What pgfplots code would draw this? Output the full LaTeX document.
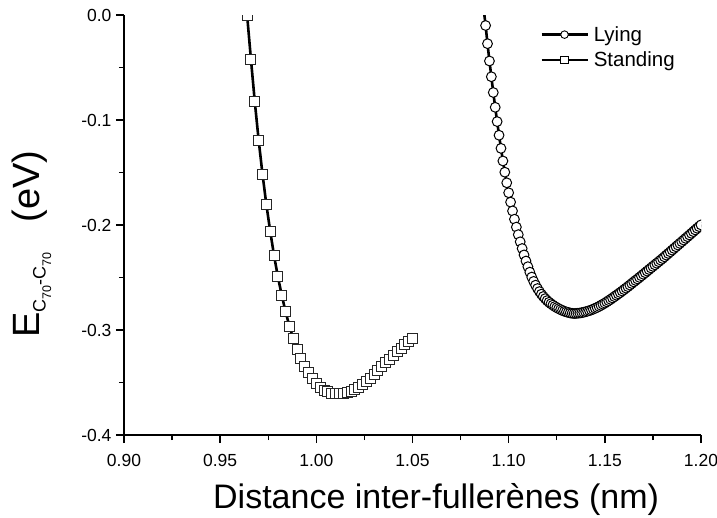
\documentclass[border=0pt]{standalone}
\usepackage{fontspec}
\setmainfont{Liberation Sans}
\usepackage{pgfplots}
\pgfplotsset{compat=1.18}

\pgfplotstableread{
x y
1.087 0.006
1.088 -0.0100
1.089 -0.0273
1.090 -0.0438
1.091 -0.0588
1.092 -0.0738
1.093 -0.0879
1.094 -0.1015
1.095 -0.1145
1.096 -0.1270
1.097 -0.1390
1.098 -0.1497
1.099 -0.1598
1.100 -0.1693
1.101 -0.1782
1.102 -0.1866
1.103 -0.1945
1.104 -0.2020
1.105 -0.2092
1.106 -0.2160
1.107 -0.2224
1.108 -0.2285
1.109 -0.2343
1.110 -0.2397
1.111 -0.2449
1.112 -0.2496
1.113 -0.2537
1.114 -0.2573
1.115 -0.2605
1.116 -0.2634
1.117 -0.2659
1.118 -0.2681
1.119 -0.2701
1.120 -0.2720
1.121 -0.2736
1.122 -0.2750
1.123 -0.2763
1.124 -0.2776
1.125 -0.2787
1.126 -0.2797
1.127 -0.2806
1.128 -0.2815
1.129 -0.2822
1.130 -0.2828
1.131 -0.2833
1.132 -0.2838
1.133 -0.2841
1.134 -0.2843
1.135 -0.2842
1.136 -0.2840
1.137 -0.2838
1.138 -0.2835
1.139 -0.2831
1.140 -0.2826
1.141 -0.2821
1.142 -0.2815
1.143 -0.2809
1.144 -0.2801
1.145 -0.2793
1.146 -0.2785
1.147 -0.2775
1.148 -0.2765
1.149 -0.2754
1.150 -0.2744
1.151 -0.2732
1.152 -0.2720
1.153 -0.2708
1.154 -0.2695
1.155 -0.2682
1.156 -0.2669
1.157 -0.2656
1.158 -0.2643
1.159 -0.2629
1.160 -0.2615
1.161 -0.2601
1.162 -0.2587
1.163 -0.2572
1.164 -0.2557
1.165 -0.2542
1.166 -0.2528
1.167 -0.2514
1.168 -0.2499
1.169 -0.2484
1.170 -0.2469
1.171 -0.2454
1.172 -0.2439
1.173 -0.2424
1.174 -0.2409
1.175 -0.2394
1.176 -0.2379
1.177 -0.2364
1.178 -0.2349
1.179 -0.2334
1.180 -0.2319
1.181 -0.2303
1.182 -0.2287
1.183 -0.2271
1.184 -0.2255
1.185 -0.2239
1.186 -0.2223
1.187 -0.2207
1.188 -0.2191
1.189 -0.2175
1.190 -0.2159
1.191 -0.2143
1.192 -0.2127
1.193 -0.2111
1.194 -0.2095
1.195 -0.2079
1.196 -0.2063
1.197 -0.2047
1.198 -0.2031
1.199 -0.2015
1.200 -0.1999
}\lying

\pgfplotstableread{
x y
0.964 0.000
0.966 -0.0422
0.968 -0.0826
0.970 -0.1190
0.972 -0.1514
0.974 -0.1803
0.976 -0.2057
0.978 -0.2289
0.980 -0.2492
0.982 -0.2667
0.984 -0.2826
0.986 -0.2962
0.988 -0.3083
0.990 -0.3181
0.992 -0.3270
0.994 -0.3343
0.996 -0.3407
0.998 -0.3464
1.000 -0.3508
1.002 -0.3543
1.004 -0.3571
1.006 -0.3588
1.008 -0.3600
1.010 -0.3606
1.012 -0.3606
1.014 -0.3602
1.016 -0.3594
1.018 -0.3582
1.020 -0.3565
1.022 -0.3544
1.024 -0.3520
1.026 -0.3491
1.028 -0.3457
1.030 -0.3420
1.032 -0.3383
1.034 -0.3347
1.036 -0.3311
1.038 -0.3276
1.040 -0.3241
1.042 -0.3206
1.044 -0.3172
1.046 -0.3139
1.048 -0.3107
1.050 -0.3076
}\standing

\begin{document}
\begin{tikzpicture}
\useasboundingbox (-124pt,-82pt) rectangle (593pt,435pt);
\begin{axis}[
  scale only axis,
  width=577pt, height=420pt,
  xmin=0.90, xmax=1.20,
  ymin=-0.4, ymax=0.0,
  axis x line*=bottom,
  axis y line*=left,
  axis line style={line width=1.4pt,-},
  xtick={0.90,0.95,1.00,1.05,1.10,1.15,1.20},
  xticklabels={0.90,0.95,1.00,1.05,1.10,1.15,1.20},
  ytick={-0.4,-0.3,-0.2,-0.1,0.0},
  yticklabels={-0.4,-0.3,-0.2,-0.1,0.0},
  minor x tick num=1,
  minor y tick num=1,
  tick align=outside,
  major tick length=8pt,
  minor tick length=5pt,
  tick style={line width=1.4pt,black},
  every tick label/.append style={font=\fontsize{17.5}{20}\selectfont},
  xticklabel style={yshift=-8pt},
  yticklabel style={xshift=-1pt},
  clip marker paths=true,
  xlabel={Distance inter-fullerènes (nm)},
  xlabel style={font=\fontsize{34}{40}\selectfont, at={(axis description cs:0.541,-0.176)}, anchor=base},
  ylabel={E\raisebox{-0.15em}{\fontsize{18}{18}\selectfont C\raisebox{-0.3em}{\fontsize{12.5}{12.5}\selectfont 70}-C\raisebox{-0.3em}{\fontsize{12.5}{12.5}\selectfont 70}}\hspace{30pt}(eV)},
  ylabel style={font=\fontsize{38}{44}\selectfont, at={(axis description cs:-0.1456,0.455)}, anchor=base},
  legend style={draw=none, fill=none, font=\fontsize{20.5}{24}\selectfont,
    at={(axis description cs:0.721,0.978)}, anchor=north west,
    inner sep=0pt, row sep=5pt, legend cell align=left},
  legend image code/.code={\draw[#1, line width=2.6pt, mark repeat=2, mark phase=2, mark size=3.8pt, mark options={line width=0.9pt, draw=black, fill=white}] plot coordinates {(0pt,0pt) (23pt,0pt) (46pt,0pt)}; \path (49pt,0pt);},
]
\addplot[black, line width=2.6pt, mark=*, mark size=4.9pt,
  mark options={solid, line width=1pt, draw=black, fill=white}] table[x=x,y=y] {\lying};
\addlegendentry{Lying}
\addplot[black, line width=2.6pt, mark=square*, mark size=5pt,
  mark options={solid, line width=0.9pt, draw=black!85, fill=white}] table[x=x,y=y] {\standing};
\addlegendentry{Standing}
\end{axis}
\end{tikzpicture}
\end{document}
